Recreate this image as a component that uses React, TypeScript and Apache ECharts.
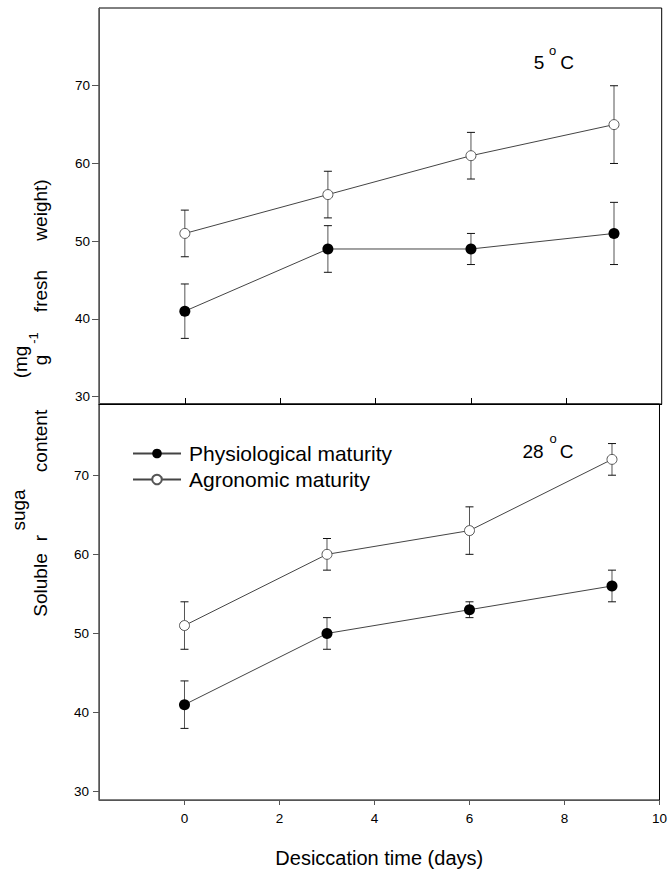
import React, { useEffect, useRef } from "react";
import * as echarts from "echarts";

const days = [0, 3, 6, 9];
const physio5 = [41, 49, 49, 51];
const physio5Err = [3.5, 3, 2, 4];
const agro5 = [51, 56, 61, 65];
const agro5Err = [3, 3, 3, 5];
const physio28 = [41, 50, 53, 56];
const physio28Err = [3, 2, 1, 2];
const agro28 = [51, 60, 63, 72];
const agro28Err = [3, 2, 3, 2];
const yTicks = [30, 40, 50, 60, 70];
const xTicksTop = [0, 2, 4, 6, 8];
const xTicksBottom = [0, 2, 4, 6, 8, 10];
const seriesNames = ["Physiological maturity", "Agronomic maturity"];

const FONT = "'Liberation Sans', Arial, Helvetica, sans-serif";

function pts(vals: number[]) {
  return days.map((d, i) => [d, vals[i]]);
}
function errPts(vals: number[], errs: number[]) {
  return days.map((d, i) => [d, vals[i], errs[i]]);
}

const errRender = (params: any, api: any) => {
  const x = api.value(0);
  const y = api.value(1);
  const e = api.value(2);
  const top = api.coord([x, y + e]);
  const bot = api.coord([x, y - e]);
  const hw = 4;
  return {
    type: "group",
    children: [
      { type: "line", shape: { x1: top[0], y1: top[1], x2: bot[0], y2: bot[1] }, style: { stroke: "#555", lineWidth: 1 } },
      { type: "line", shape: { x1: top[0] - hw, y1: top[1], x2: top[0] + hw, y2: top[1] }, style: { stroke: "#111", lineWidth: 1 } },
      { type: "line", shape: { x1: bot[0] - hw, y1: bot[1], x2: bot[0] + hw, y2: bot[1] }, style: { stroke: "#111", lineWidth: 1 } },
    ],
  };
};

function lineSeries(name: string, vals: number[], idx: number, filled: boolean) {
  return {
    type: "line",
    name,
    xAxisIndex: idx,
    yAxisIndex: idx,
    data: pts(vals),
    symbol: "circle",
    symbolSize: filled ? 11 : 10,
    lineStyle: { color: "#444", width: 1 },
    itemStyle: filled
      ? { color: "#000", borderColor: "#000", borderWidth: 0 }
      : { color: "#fff", borderColor: "#555", borderWidth: 1 },
    z: 3,
  };
}

function errSeries(vals: number[], errs: number[], idx: number) {
  return {
    type: "custom",
    xAxisIndex: idx,
    yAxisIndex: idx,
    data: errPts(vals, errs),
    encode: { x: 0, y: 1 },
    renderItem: errRender,
    z: 1,
    silent: true,
  };
}

function txt(text: string, x: number, y: number, size: number, rotate = false) {
  return {
    type: "text",
    x,
    y,
    rotation: rotate ? Math.PI / 2 : 0,
    style: {
      text,
      fontSize: size,
      fontFamily: FONT,
      fill: "#000",
      align: "center",
      verticalAlign: "middle",
    },
  };
}

export default function App() {
  const ref = useRef<HTMLDivElement>(null);
  useEffect(() => {
    if (!ref.current) return;
    const chart = echarts.init(ref.current, undefined, { renderer: "svg" });
    const axisLabelStyle = { fontSize: 13.5, fontFamily: FONT, color: "#000" };
    chart.setOption({
      animation: false,
      backgroundColor: "#fff",
      grid: [
        { left: 99, top: 8, right: 8.3, height: 396, show: true, borderColor: "#000", borderWidth: 1 },
        { left: 99, top: 404, right: 8.3, height: 397, show: true, borderColor: "#000", borderWidth: 1 },
      ],
      legend: {
        data: seriesNames,
        orient: "vertical",
        left: 127,
        top: 438,
        itemWidth: 48,
        itemHeight: 12,
        itemGap: 5,
        textStyle: { fontSize: 21, fontFamily: FONT, color: "#000", padding: [0, 0, 0, 3] },
      },
      xAxis: [
        {
          type: "value",
          gridIndex: 0,
          min: -1.8,
          max: 10,
          axisLine: { show: true, onZero: false, lineStyle: { color: "#000", width: 1 } },
          axisTick: { show: true, inside: true, length: 6, customValues: xTicksTop, lineStyle: { color: "#000" } },
          axisLabel: { show: false },
          splitLine: { show: false },
        },
        {
          type: "value",
          gridIndex: 1,
          min: -1.8,
          max: 10,
          axisLine: { show: true, onZero: false, lineStyle: { color: "#555", width: 1 } },
          axisTick: { show: true, inside: false, length: 5, customValues: xTicksBottom, lineStyle: { color: "#555" } },
          axisLabel: { ...axisLabelStyle, margin: 11, customValues: xTicksBottom },
          splitLine: { show: false },
          name: "Desiccation time (days)",
          nameLocation: "middle",
          nameGap: 48,
          nameTextStyle: { fontSize: 20, fontFamily: FONT, color: "#000" },
        },
      ],
      yAxis: [
        {
          type: "value",
          gridIndex: 0,
          min: 29.06,
          max: 80,
          axisLine: { show: true, onZero: false, lineStyle: { color: "#555", width: 1 } },
          axisTick: { show: true, inside: false, length: 7, customValues: yTicks, lineStyle: { color: "#555" } },
          axisLabel: { ...axisLabelStyle, margin: 9, customValues: yTicks },
          splitLine: { show: false },
        },
        {
          type: "value",
          gridIndex: 1,
          min: 28.95,
          max: 79,
          axisLine: { show: true, onZero: false, lineStyle: { color: "#555", width: 1 } },
          axisTick: { show: true, inside: false, length: 6, customValues: yTicks, lineStyle: { color: "#555" } },
          axisLabel: { ...axisLabelStyle, margin: 10, customValues: yTicks },
          splitLine: { show: false },
        },
      ],
      series: [
        errSeries(physio5, physio5Err, 0),
        errSeries(agro5, agro5Err, 0),
        lineSeries(seriesNames[0], physio5, 0, true),
        lineSeries(seriesNames[1], agro5, 0, false),
        errSeries(physio28, physio28Err, 1),
        errSeries(agro28, agro28Err, 1),
        lineSeries(seriesNames[0], physio28, 1, true),
        lineSeries(seriesNames[1], agro28, 1, false),
      ],
      graphic: [
        txt("5", 539, 62, 19),
        txt("o", 552.5, 50, 13),
        txt("C", 567, 62, 19),
        txt("28", 533, 451, 19),
        txt("o", 553, 438, 13),
        txt("C", 566.5, 451, 19),
        txt("weight)", 40, 210, 19, true),
        txt("fresh", 40, 291, 19, true),
        txt("-1", 33, 338, 13, true),
        txt("g", 40, 360, 19, true),
        txt("(mg", 20, 362, 19, true),
        txt("content", 40, 441, 19, true),
        txt("suga", 18, 510, 19, true),
        txt("r", 40, 538, 19, true),
        txt("Soluble", 40, 585, 19, true),
      ],
    });
    return () => chart.dispose();
  }, []);
  return (
    <div
      ref={ref}
      style={{ position: "fixed", left: 0, top: 0, width: 670, height: 869, background: "#fff" }}
    />
  );
}
